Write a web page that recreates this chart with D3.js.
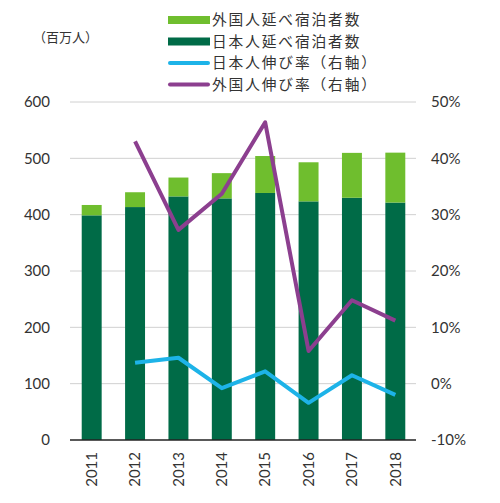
<!DOCTYPE html>
<html><head><meta charset="utf-8">
<script src="https://cdn.jsdelivr.net/npm/d3@7"></script>
<style>
html,body{margin:0;padding:0;background:#fff;}
text{font-family:"Noto Sans CJK JP","Lato",sans-serif;fill:#333;}
</style></head>
<body><svg id="c" width="500" height="503"></svg>
<script>
const years = ["2011","2012","2013","2014","2015","2016","2017","2018"];
const japanese = [398.8, 413.5, 432.4, 428.9, 438.5, 423.6, 430.0, 421.5];
const foreign = [18.4, 26.3, 33.5, 44.8, 65.6, 69.4, 79.7, 88.6];
const japaneseGrowth = [null, 3.7, 4.6, -0.8, 2.2, -3.4, 1.5, -2.0];
const foreignGrowth = [null, 43.0, 27.3, 33.7, 46.4, 5.8, 14.8, 11.2];
const leftTicks = [0,100,200,300,400,500,600];
const rightTicks = [-10,0,10,20,30,40,50];
const legendLabels = ["外国人延べ宿泊者数","日本人延べ宿泊者数","日本人伸び率（右軸）","外国人伸び率（右軸）"];
const colors = ["#6fbe2e","#006b47","#1db3e8","#8c3f8f"];

const svg = d3.select("#c");
const x = d3.scaleBand().domain(years).range([70,417]).paddingInner(0.54).paddingOuter(0.27);
const y = d3.scaleLinear().domain([0,600]).range([440,102]);
const y2 = d3.scaleLinear().domain([-10,50]).range([440,102]);

// gridlines
svg.append("g").selectAll("line").data(leftTicks.filter(d=>d>0)).join("line")
  .attr("x1",70).attr("x2",416).attr("y1",d=>y(d)).attr("y2",d=>y(d))
  .attr("stroke","#d0d0d0").attr("stroke-width",1);

// left axis labels
svg.append("g").selectAll("text").data(leftTicks).join("text")
  .attr("x",50).attr("y",d=>y(d)).attr("dy","0.35em").attr("text-anchor","end")
  .style("font-family","Lato, sans-serif").style("font-size","15px").text(d=>d);

// right axis labels
svg.append("g").selectAll("text").data(rightTicks).join("text")
  .attr("x",431).attr("y",d=>y2(d)).attr("dy","0.35em").attr("text-anchor","start")
  .style("font-family","Lato, sans-serif").style("font-size","15px").text(d=>d+"%");

// bars
const bw = x.bandwidth();
svg.append("g").selectAll("rect").data(years).join("rect")
  .attr("x",d=>x(d)).attr("width",bw)
  .attr("y",(d,i)=>y(japanese[i])).attr("height",(d,i)=>y(0)-y(japanese[i]))
  .attr("fill",colors[1]);
svg.append("g").selectAll("rect").data(years).join("rect")
  .attr("x",d=>x(d)).attr("width",bw)
  .attr("y",(d,i)=>y(japanese[i]+foreign[i])).attr("height",(d,i)=>y(japanese[i])-y(japanese[i]+foreign[i]))
  .attr("fill",colors[0]);

// baseline
svg.append("line").attr("x1",70).attr("x2",416).attr("y1",y(0)).attr("y2",y(0))
  .attr("stroke","#222").attr("stroke-width",1.3);

// lines
const line = d3.line().defined(d=>d.v!==null).x(d=>x(d.k)+bw/2).y(d=>y2(d.v));
svg.append("path").datum(years.map((k,i)=>({k,v:japaneseGrowth[i]})))
  .attr("d",line).attr("fill","none").attr("stroke",colors[2]).attr("stroke-width",4).attr("stroke-linejoin","round");
svg.append("path").datum(years.map((k,i)=>({k,v:foreignGrowth[i]})))
  .attr("d",line).attr("fill","none").attr("stroke",colors[3]).attr("stroke-width",4).attr("stroke-linejoin","round");

// year labels
svg.append("g").selectAll("text").data(years).join("text")
  .attr("transform",d=>`translate(${x(d)+bw/2},452) rotate(-90)`)
  .attr("dy","0.35em").attr("text-anchor","end")
  .style("font-family","Lato, sans-serif").style("font-size","15px").text(d=>d);

// unit label
svg.append("text").attr("x",33).attr("y",37).attr("dy","0.35em")
  .style("font-size","13px").text("（百万人）");

// legend
const lg = svg.append("g").selectAll("g").data(legendLabels).join("g")
  .attr("transform",(d,i)=>`translate(168,${20+i*21.5})`);
lg.append("rect").attr("x",0).attr("width",42).attr("y",(d,i)=>i<2?-4:-2).attr("height",(d,i)=>i<2?8:4)
  .attr("rx",(d,i)=>i<2?0:2).attr("fill",(d,i)=>colors[i]);
lg.append("text").attr("x",44).attr("dy","0.35em").style("font-size","14.7px")
  .style("letter-spacing","1.9px").text(d=>d);
</script></body></html>
